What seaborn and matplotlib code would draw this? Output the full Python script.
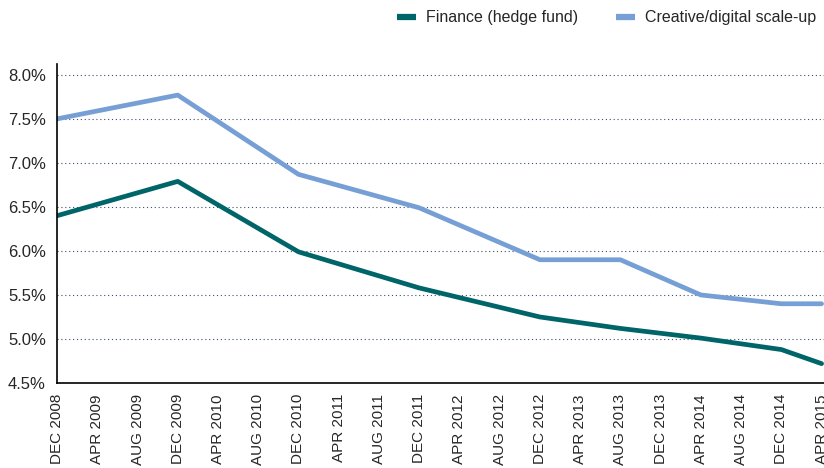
import pandas as pd
import matplotlib.pyplot as plt
import seaborn as sns
from matplotlib.ticker import FuncFormatter

# -------------------------------
# Data
# -------------------------------
tick_labels = ["DEC 2008", "APR 2009", "AUG 2009", "DEC 2009", "APR 2010",
               "AUG 2010", "DEC 2010", "APR 2011", "AUG 2011", "DEC 2011",
               "APR 2012", "AUG 2012", "DEC 2012", "APR 2013", "AUG 2013",
               "DEC 2013", "APR 2014", "AUG 2014", "DEC 2014", "APR 2015"]
points = ["DEC 2008", "DEC 2009", "DEC 2010", "DEC 2011", "DEC 2012",
          "AUG 2013", "APR 2014", "DEC 2014", "APR 2015"]
finance = [6.40, 6.79, 5.99, 5.58, 5.25, 5.12, 5.01, 4.88, 4.72]
creative = [7.50, 7.77, 6.87, 6.49, 5.90, 5.90, 5.50, 5.40, 5.40]

series_names = ["Finance (hedge fund)", "Creative/digital scale-up"]
colors = ["#006569", "#769FD5"]

# -------------------------------
# Build long table
# -------------------------------
pos = [tick_labels.index(p) for p in points]
df = pd.concat([
    pd.DataFrame({"x": pos, "rate": finance, "series": series_names[0]}),
    pd.DataFrame({"x": pos, "rate": creative, "series": series_names[1]}),
])

# -------------------------------
# Plot
# -------------------------------
sns.set_style("white")
plt.rcParams["font.family"] = ["Liberation Sans", "DejaVu Sans"]

fig = plt.figure(figsize=(8.24, 4.68), dpi=100)
ax = fig.add_axes([0.0692, 0.1816, 0.9308, 0.682])

sns.lineplot(data=df, x="x", y="rate", hue="series", palette=colors,
             hue_order=series_names, linewidth=3.4, ax=ax, legend=False)

ax.set_xlim(0, 19.06)
ax.set_ylim(4.5, 8.125)
ax.set_yticks([4.5, 5.0, 5.5, 6.0, 6.5, 7.0, 7.5, 8.0])
ax.set_yticks([4.5], minor=True)
ax.yaxis.set_major_formatter(FuncFormatter(lambda v, _: f"{v:.1f}%"))
ax.set_xticks(range(len(tick_labels)))
ax.set_xticklabels(tick_labels, rotation=90, va="top")
ax.tick_params(axis="x", length=5, width=1, color="black", labelsize=11, pad=3)
ax.tick_params(axis="y", which="major", length=0, labelsize=12, pad=8)
ax.tick_params(axis="y", which="minor", length=7, width=1.2, color="black", left=True)
ax.set_xlabel("")
ax.set_ylabel("")

for v in [5.0, 5.5, 6.0, 6.5, 7.0, 7.5, 8.0]:
    ax.axhline(v, color="#3b4f6b", linestyle=(0, (1, 2.5)), linewidth=0.8, zorder=0)

for side in ["top", "right"]:
    ax.spines[side].set_visible(False)
for side in ["left", "bottom"]:
    ax.spines[side].set_color("black")
    ax.spines[side].set_linewidth(1.2)

handles = [plt.Line2D([], [], color=c, linewidth=4.5, solid_capstyle="butt")
           for c in colors]
fig.legend(handles, series_names, loc="upper right", bbox_to_anchor=(1.0, 0.995),
           ncol=2, frameon=False, fontsize=11.5, handlelength=1.2,
           handletextpad=0.6, columnspacing=2.4, borderaxespad=0.1)

fig.savefig("out.png", dpi=100)
